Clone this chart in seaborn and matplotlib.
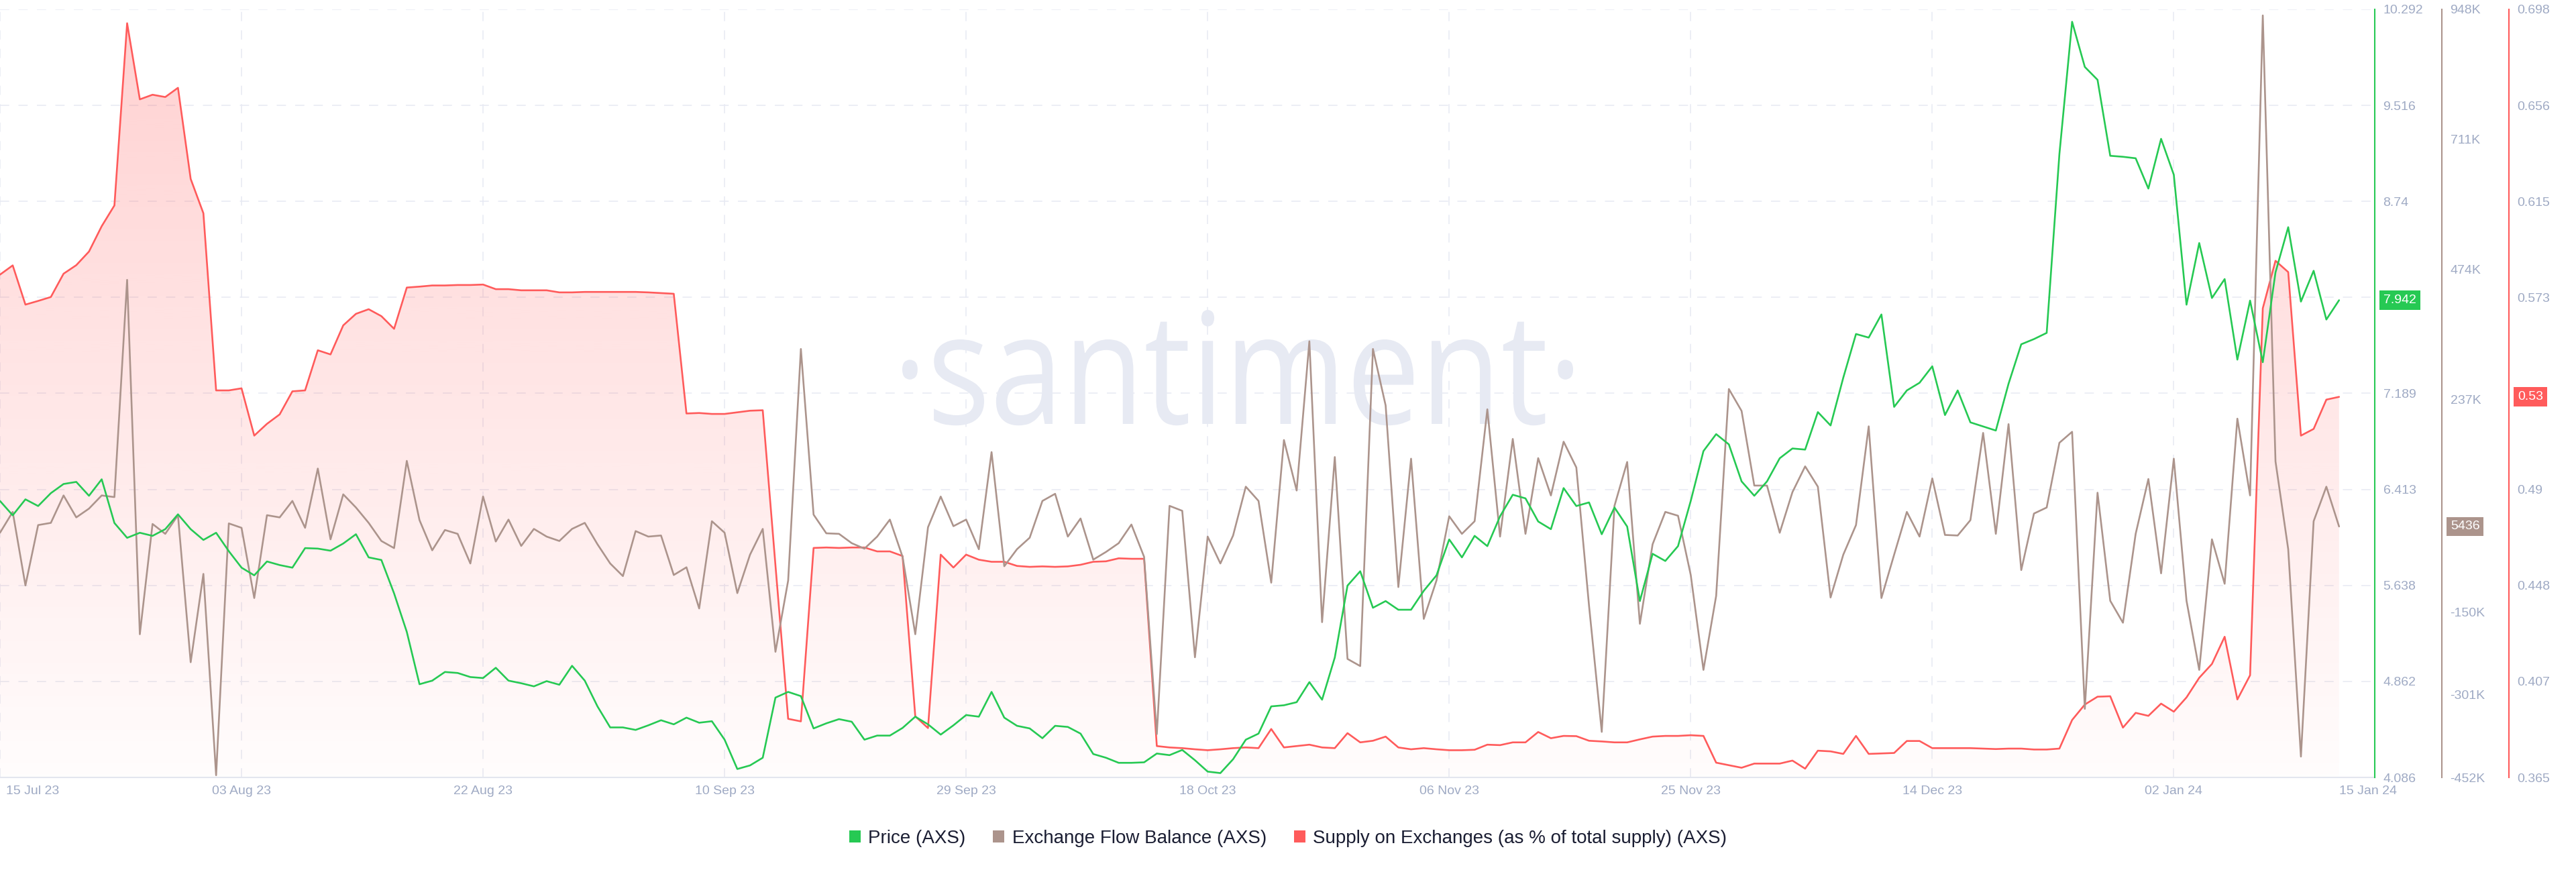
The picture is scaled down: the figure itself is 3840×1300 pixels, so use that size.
import numpy as np
import pandas as pd
import matplotlib
matplotlib.use("Agg")
import matplotlib.pyplot as plt
import matplotlib.dates as mdates
import matplotlib.transforms as mtransforms
from matplotlib.patches import Patch, PathPatch
from matplotlib.textpath import TextPath
from matplotlib.font_manager import FontProperties
from matplotlib.colors import to_rgb
import seaborn as sns

# ---------------- data ----------------
start_date = "2023-07-15"

price = [
    6.32, 6.204, 6.333, 6.279, 6.383, 6.457, 6.474, 6.362, 6.495, 6.142,
    6.022, 6.063, 6.038, 6.092, 6.212, 6.092, 6.005, 6.063, 5.914, 5.781,
    5.719, 5.831, 5.802, 5.781, 5.939, 5.935, 5.918, 5.976, 6.051, 5.864,
    5.843, 5.573, 5.262, 4.839, 4.868, 4.938, 4.93, 4.897, 4.889, 4.972,
    4.868, 4.847, 4.822, 4.864, 4.835, 4.988, 4.868, 4.66, 4.49, 4.49,
    4.47, 4.507, 4.548, 4.515, 4.569, 4.528, 4.54, 4.391, 4.154, 4.183,
    4.245, 4.731, 4.777, 4.743, 4.482, 4.523, 4.557, 4.536, 4.391, 4.424,
    4.424, 4.486, 4.577, 4.515, 4.432, 4.507, 4.59, 4.577, 4.777, 4.569,
    4.503, 4.482, 4.403, 4.503, 4.494, 4.44, 4.275, 4.245, 4.204, 4.204,
    4.208, 4.279, 4.266, 4.308, 4.225, 4.133, 4.121, 4.233, 4.391, 4.44,
    4.66, 4.669, 4.694, 4.856, 4.714, 5.055, 5.636, 5.752, 5.457, 5.511,
    5.441, 5.441, 5.594, 5.719, 6.009, 5.864, 6.038, 5.955, 6.196, 6.37,
    6.341, 6.154, 6.092, 6.424, 6.279, 6.308, 6.051, 6.267, 6.113, 5.511,
    5.893, 5.835, 5.955, 6.32, 6.723, 6.86, 6.777, 6.478, 6.362, 6.478,
    6.665, 6.744, 6.735, 7.038, 6.93, 7.316, 7.669, 7.64, 7.827, 7.08,
    7.213, 7.275, 7.408, 7.014, 7.213, 6.955, 6.922, 6.889, 7.267, 7.586,
    7.628, 7.678, 9.122, 10.192, 9.827, 9.723, 9.109, 9.101, 9.089, 8.844,
    9.246, 8.956, 7.906, 8.404, 7.96, 8.113, 7.462, 7.939, 7.441, 8.167,
    8.532, 7.931, 8.18, 7.786, 7.942,
]

# exchange flow balance, thousands of AXS
flow_k = [
    -6, 32, -102, 8, 12, 62, 22, 38, 62, 59,
    455, -191, 10, -8, 26, -242, -81, -448, 11, 3,
    -125, 26, 22, 52, 3, 111, -18, 64, 40, 12,
    -21, -34, 125, 17, -38, -1, -8, -62, 60, -22,
    18, -30, 1, -13, -21, 1, 12, -27, -62, -85,
    -3, -13, -11, -83, -69, -144, 15, -6, -116, -46,
    1, -223, -93, 329, 27, -7, -8, -25, -35, -13,
    18, -50, -191, 4, 60, 6, 18, -36, 141, -67,
    -36, -15, 52, 65, -13, 20, -55, -41, -25, 9,
    -50, -373, 43, 34, -233, -13, -62, -11, 78, 52,
    -97, 163, 71, 343, -169, 132, -236, -249, 329, 226,
    -105, 129, -163, -93, 24, -8, 15, 219, -13, 165,
    -8, 130, 62, 160, 113, -139, -369, 43, 123, -172,
    -27, 32, 25, -83, -256, -121, 256, 216, 80, 80,
    -6, 68, 115, 78, -124, -46, 8, 188, -125, -46,
    32, -13, 93, -10, -11, 17, 176, -8, 192, -74,
    29, 40, 158, 178, -327, 67, -130, -170, -8, 92,
    -80, 129, -130, -256, -18, -99, 202, 62, 937, 124,
    -36, -414, 15, 78, 5.436,
]

supply = [
    0.583, 0.587, 0.570, 0.5716, 0.5733, 0.5834, 0.5871, 0.593, 0.604, 0.613,
    0.692, 0.659, 0.661, 0.660, 0.664, 0.6245, 0.6096, 0.5328, 0.5328, 0.5337,
    0.5132, 0.5183, 0.5224, 0.5324, 0.5328, 0.5502, 0.5484, 0.561, 0.566, 0.568,
    0.565, 0.5595, 0.5774, 0.5778, 0.5783, 0.5783, 0.5785, 0.5785, 0.5787, 0.5767,
    0.5767, 0.5762, 0.5762, 0.5762, 0.5753, 0.5753, 0.5755, 0.5755, 0.5755, 0.5755,
    0.5755, 0.5753, 0.575, 0.5747, 0.5228, 0.523, 0.5226, 0.5226, 0.5233, 0.524,
    0.5242, 0.457, 0.3904, 0.3893, 0.4645, 0.4647, 0.4645, 0.4647, 0.4647, 0.463,
    0.463, 0.461, 0.3915, 0.3864, 0.4616, 0.456, 0.4616, 0.4594, 0.4585, 0.4585,
    0.4567, 0.4563, 0.4565, 0.4563, 0.4565, 0.4572, 0.4585, 0.4587, 0.46, 0.4598,
    0.4598, 0.3786, 0.378, 0.3777, 0.3772, 0.3768, 0.3772, 0.3777, 0.378, 0.3777,
    0.386, 0.378, 0.3786, 0.3792, 0.378, 0.3777, 0.3842, 0.3802, 0.3809, 0.3827,
    0.378, 0.3772, 0.3777, 0.3772, 0.3768, 0.3768, 0.377, 0.3792, 0.379, 0.3802,
    0.3802, 0.3847, 0.382, 0.383, 0.3829, 0.3809, 0.3806, 0.3802, 0.3802, 0.3815,
    0.3827, 0.383, 0.383, 0.3833, 0.383, 0.3714, 0.3703, 0.3692, 0.371, 0.371,
    0.371, 0.3723, 0.3688, 0.3766, 0.3763, 0.3752, 0.383, 0.3752, 0.3754, 0.3756,
    0.3808, 0.3808, 0.3777, 0.3777, 0.3777, 0.3777, 0.3775, 0.3773, 0.3775, 0.3775,
    0.3771, 0.3771, 0.3775, 0.3899, 0.3966, 0.4, 0.4002, 0.3866, 0.393, 0.3917,
    0.397, 0.3935, 0.3997, 0.4082, 0.4142, 0.426, 0.3988, 0.4093, 0.5684, 0.589,
    0.5841, 0.5132, 0.5161, 0.5288, 0.53,
]

x_tick_dates = ["2023-07-15", "2023-08-03", "2023-08-22", "2023-09-10", "2023-09-29",
                "2023-10-18", "2023-11-06", "2023-11-25", "2023-12-14", "2024-01-02"]
last_date_label = "2024-01-15"

price_range = (4.086, 10.292)
price_tick_labels = ["4.086", "4.862", "5.638", "6.413", "7.189", "", "8.74", "9.516", "10.292"]
flow_range = (-452, 948)
flow_ticks = [-452, -301, -150, 237, 474, 711, 948]
flow_tick_labels = ["-452K", "-301K", "-150K", "237K", "474K", "711K", "948K"]
supply_range = (0.365, 0.698)
supply_tick_labels = ["0.365", "0.407", "0.448", "0.49", "", "0.573", "0.615", "0.656", "0.698"]

series_names = ["Price (AXS)", "Exchange Flow Balance (AXS)",
                "Supply on Exchanges (as % of total supply) (AXS)"]

# ---------------- style ----------------
GREEN = "#26C953"
BROWN = "#AC948C"
RED = "#FF5B5B"
TICK = "#9FAAC4"
GRID = "#E7EAF3"
WM = "#E7EAF3"
LEG = "#1B1E33"

sns.set_style("white")
plt.rcParams["font.family"] = ["Liberation Sans", "DejaVu Sans"]

dates = pd.date_range(start_date, periods=len(price), freq="D")
df = pd.DataFrame({"date": dates, "price": price, "flow": flow_k, "supply": supply})

W, H = 3840, 1300
fig = plt.figure(figsize=(W / 100, H / 100), dpi=100)
fig.patch.set_facecolor("white")
ax_s = fig.add_axes([0, 141 / H, 3540 / W, 1145 / H])
ax_s.patch.set_visible(False)
ax_f = ax_s.twinx()
ax_p = ax_s.twinx()
for a in (ax_f, ax_p):
    a.patch.set_visible(False)

# supply: gradient area + line
xnum = mdates.date2num(dates)
poly = ax_s.fill_between(df["date"], df["supply"], supply_range[0],
                         facecolor="none", edgecolor="none")
grad = np.linspace(0, 1, 256)[:, None]
img = np.zeros((256, 1, 4))
img[..., 0:3] = to_rgb(RED)
img[..., 3] = 0.015 + 0.27 * grad
im = ax_s.imshow(img, extent=[xnum[0], xnum[-1], supply_range[0], supply_range[1]],
                 origin="lower", aspect="auto", zorder=1, interpolation="bilinear")
im.set_clip_path(poly.get_paths()[0], transform=ax_s.transData)

LW = 1.9
sns.lineplot(data=df, x="date", y="supply", ax=ax_s, color=RED, linewidth=LW, zorder=3)
sns.lineplot(data=df, x="date", y="flow", ax=ax_f, color=BROWN, linewidth=LW, zorder=3)
sns.lineplot(data=df, x="date", y="price", ax=ax_p, color=GREEN, linewidth=LW, zorder=3)

x0 = mdates.date2num(pd.Timestamp(start_date))
ax_s.set_xlim(x0, x0 + 3540 / 18.95)
ax_s.set_ylim(*supply_range)
ax_f.set_ylim(*flow_range)
ax_p.set_ylim(*price_range)

for a in (ax_s, ax_f, ax_p):
    a.set_xlabel("")
    a.set_ylabel("")
    a.spines["top"].set_visible(False)
    a.spines["left"].set_visible(False)

# ticks
supply_ticks = np.linspace(supply_range[0], supply_range[1], 9)
price_ticks = np.linspace(price_range[0], price_range[1], 9)
ax_s.yaxis.tick_right()
ax_s.set_yticks(supply_ticks, supply_tick_labels)
ax_f.set_yticks(flow_ticks, flow_tick_labels)
ax_p.set_yticks(price_ticks, price_tick_labels)
for a in (ax_s, ax_f, ax_p):
    a.tick_params(axis="y", length=0, pad=9, labelsize=14, labelcolor=TICK,
                  left=False, labelleft=False, right=True, labelright=True)

tick_nums = [mdates.date2num(pd.Timestamp(d)) for d in x_tick_dates]
ax_s.set_xticks(tick_nums)
ax_s.tick_params(axis="x", length=0, labelbottom=False)
ax_s.grid(True, axis="both", color=GRID, linewidth=1.1, linestyle=(0, (9, 9)), zorder=0)
ax_s.set_axisbelow(True)

# spines
ax_s.spines["bottom"].set_color("#E3E6EF")
ax_s.spines["bottom"].set_linewidth(1.5)
ax_f.spines["bottom"].set_visible(False)
ax_p.spines["bottom"].set_visible(False)
ax_s.spines["right"].set_position(("axes", 1 + 200 / 3540))
ax_s.spines["right"].set_color(RED)
ax_f.spines["right"].set_position(("axes", 1 + 100 / 3540))
ax_f.spines["right"].set_color(BROWN)
ax_p.spines["right"].set_color(GREEN)
for a in (ax_s, ax_f, ax_p):
    a.spines["right"].set_linewidth(1.5)

# x labels
xtr = mtransforms.blended_transform_factory(ax_s.transData, ax_s.transAxes)
for i, d in enumerate(x_tick_dates):
    ts = pd.Timestamp(d)
    xv = mdates.date2num(ts)
    ha = "center"
    if i == 0:
        xv += 0.5
        ha = "left"
    ax_s.text(xv, -21 / 1145, ts.strftime("%d %b %y"), transform=xtr, ha=ha, va="center",
              fontsize=14, color=TICK)
ts = pd.Timestamp(last_date_label)
ax_s.text(mdates.date2num(ts), -21 / 1145, ts.strftime("%d %b %y"), transform=xtr,
          ha="left", va="center", fontsize=14, color=TICK)

# last-value boxes
boxes = [
    (ax_p, 1.0, price[-1], f"{price[-1]:.3f}", GREEN),
    (ax_f, 1 + 100 / 3540, flow_k[-1], f"{flow_k[-1] * 1000:.0f}", BROWN),
    (ax_s, 1 + 200 / 3540, supply[-1], f"{supply[-1]:.2f}", RED),
]
for a, xa, val, txt, col in boxes:
    tr = mtransforms.blended_transform_factory(a.transAxes, a.transData)
    a.text(xa + 13 / 3540, val, txt, transform=tr, ha="left", va="center",
           fontsize=14, color="white", zorder=10,
           bbox=dict(boxstyle="square,pad=0.3", facecolor=col, edgecolor="none"))

# watermark
fp = FontProperties(family="Open Sans")
tp = TextPath((0, 0), "\u00b7santiment\u00b7", size=100, prop=fp)
ext = tp.get_extents()
n_ext = TextPath((0, 0), "n", size=100, prop=fp).get_extents()
sy = 126 / n_ext.height
sx = 1000 / ext.width
wtr = mtransforms.Affine2D().translate(-ext.x0, 0).scale(sx, sy).translate(1345, H - 632)
wpath = wtr.transform_path(tp)
fig.add_artist(PathPatch(wpath, transform=mtransforms.IdentityTransform(),
                         facecolor=WM, edgecolor="none", zorder=-5))

# legend
handles = [Patch(facecolor=c, edgecolor="none", label=n)
           for c, n in zip([GREEN, BROWN, RED], series_names)]
fig.legend(handles=handles, loc="center", bbox_to_anchor=(0.5, 50 / H), ncol=3,
           frameon=False, fontsize=20, handlelength=0.61, handleheight=0.61,
           handletextpad=0.4, columnspacing=1.47, labelcolor=LEG)

fig.savefig("out.png", dpi=100, facecolor="white")
